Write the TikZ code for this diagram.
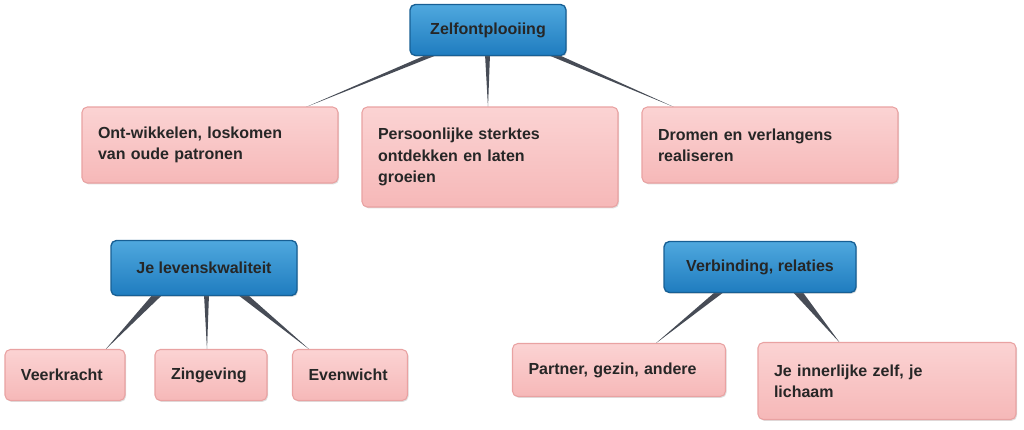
\documentclass[tikz,border=0pt]{standalone}
\usepackage{fontspec}
\setmainfont{Liberation Sans}
\usetikzlibrary{calc,backgrounds,shadows}
\definecolor{pinkA}{HTML}{FBD3D3}
\definecolor{pinkB}{HTML}{F6B8B8}
\definecolor{pinkE}{HTML}{E9A2A2}
\definecolor{blueA}{HTML}{4FA8DE}
\definecolor{blueB}{HTML}{1F7CBF}
\definecolor{blueE}{HTML}{175F94}
\definecolor{wedgec}{HTML}{474C56}
\tikzset{
  base/.style={rounded corners=4pt, font=\bfseries\fontsize{12}{16}\selectfont, text=black!85,
    drop shadow={shadow xshift=0.8pt,shadow yshift=-1pt,opacity=0.25}},
  topic/.style 2 args={base, draw=blueE, line width=1pt, top color=blueA, bottom color=blueB,
    minimum width=#1*0.75pt, minimum height=#2*0.75pt, align=center},
  leaf/.style 2 args={base, draw=pinkE, line width=0.8pt, top color=pinkA, bottom color=pinkB,
    minimum width=#1*0.75pt, minimum height=#2*0.75pt, text width=#1*0.75pt-24pt, inner xsep=12pt, align=left},
  wedge/.style={fill=wedgec}
}
\begin{document}
\begin{tikzpicture}[x=0.75pt,y=-0.75pt]
\useasboundingbox (0,0) rectangle (1024,429);
\node[topic={156}{51}] (z) at (488,30) {Zelfontplooiing};
\node[leaf={256}{76}] (a) at (210,145) {Ont-wikkelen, loskomen\\van oude patronen};
\node[leaf={256}{100}] (b) at (490,157) {Persoonlijke sterktes\\ontdekken en laten\\groeien};
\node[leaf={256}{76}] (c) at (770,145) {Dromen en verlangens\\realiseren};
\node[topic={186}{55}] (l) at (204,268) {Je levenskwaliteit};
\node[topic={192}{51}] (v) at (760,267) {Verbinding, relaties};
\node[leaf={120}{51}] (l1) at (65,375) {Veerkracht};
\node[leaf={112}{51}] (l2) at (211,375) {Zingeving};
\node[leaf={115}{51}] (l3) at (350,375) {Evenwicht};
\node[leaf={213}{53}] (v1) at (619,370) {Partner, gezin, andere};
\node[leaf={258}{77}] (v2) at (887,381) {Je innerlijke zelf, je\\lichaam};
\begin{scope}[on background layer]
\fill[wedge] ($(z.south)+(-60,-2)$) -- ($(z.south)+(-49,-2)$) -- ($(a.north)+(95,1)$) -- cycle;
\fill[wedge] ($(z.south)+(-3,-2)$) -- ($(z.south)+(2,-2)$) -- ($(b.north)+(-2,1)$) -- cycle;
\fill[wedge] ($(z.south)+(58,-2)$) -- ($(z.south)+(69,-2)$) -- ($(c.north)+(-95,1)$) -- cycle;
\fill[wedge] ($(l.south)+(-51,-2)$) -- ($(l.south)+(-41,-2)$) -- ($(l1.north)+(40,1)$) -- cycle;
\fill[wedge] ($(l.south)+(0,-2)$) -- ($(l.south)+(5,-2)$) -- ($(l2.north)+(-4,1)$) -- cycle;
\fill[wedge] ($(l.south)+(33,-2)$) -- ($(l.south)+(43,-2)$) -- ($(l3.north)+(-40,1)$) -- cycle;
\fill[wedge] ($(v.south)+(-44,-2)$) -- ($(v.south)+(-35,-2)$) -- ($(v1.north)+(36,1)$) -- cycle;
\fill[wedge] ($(v.south)+(32,-2)$) -- ($(v.south)+(42,-2)$) -- ($(v2.north)+(-47,1)$) -- cycle;
\end{scope}
\end{tikzpicture}
\end{document}
